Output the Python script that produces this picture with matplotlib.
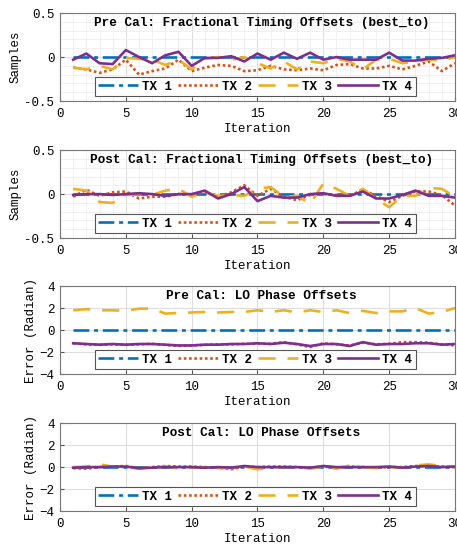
import numpy as np
import matplotlib
matplotlib.use("Agg")
import matplotlib.pyplot as plt
from matplotlib.ticker import MultipleLocator

plt.rcParams['font.family'] = ['Liberation Mono', 'DejaVu Sans Mono']
plt.rcParams['font.size'] = 9

iterations = np.arange(1, 31)
labels = ["TX 1", "TX 2", "TX 3", "TX 4"]

# pre cal fractional timing offsets (samples)
pre_to_tx1 = [0.0] * 30
pre_to_tx2 = [-0.12, -0.14, -0.18, -0.14, -0.03, -0.2, -0.16, -0.13, -0.03, -0.16,
              -0.12, -0.09, -0.1, -0.16, -0.15, -0.1, -0.14, -0.15, -0.13, -0.15,
              -0.09, -0.08, -0.13, -0.13, -0.1, -0.14, -0.1, -0.05, -0.16, -0.07]
pre_to_tx3 = [-0.12, -0.14, -0.1, -0.14, -0.01, -0.02, -0.03, -0.09, -0.03, -0.14,
              -0.02, 0.0, -0.03, 0.0, -0.07, -0.13, -0.05, -0.14, -0.05, -0.07,
              -0.02, -0.05, -0.14, -0.03, -0.02, -0.07, -0.05, -0.03, -0.04, 0.0]
pre_to_tx4 = [-0.03, 0.04, -0.07, -0.08, 0.08, 0.0, -0.07, 0.02, 0.06, -0.1,
              -0.01, -0.01, 0.01, -0.05, 0.04, -0.03, 0.05, -0.02, 0.05, -0.03,
              0.0, -0.03, -0.03, -0.03, 0.05, -0.04, -0.04, -0.02, -0.01, 0.02]

# post cal fractional timing offsets (samples)
post_to_tx1 = [0.0] * 30
post_to_tx2 = [-0.03, 0.05, -0.02, 0.02, 0.03, -0.05, -0.03, -0.03, 0.0, -0.01,
               0.02, -0.03, 0.02, 0.1, -0.02, 0.06, -0.03, -0.07, -0.01, 0.0,
               -0.01, -0.02, 0.05, -0.02, -0.09, -0.02, 0.03, 0.03, -0.01, -0.13]
post_to_tx3 = [0.06, 0.04, -0.09, -0.1, -0.01, 0.0, -0.01, 0.04, 0.06, -0.03,
               0.02, -0.02, -0.01, -0.02, 0.06, 0.08, -0.03, -0.02, -0.11, 0.12,
               0.06, -0.02, 0.06, -0.05, -0.15, -0.02, -0.02, 0.07, 0.06, -0.03]
post_to_tx4 = [-0.01, 0.0, 0.0, -0.01, 0.0, 0.01, 0.0, -0.02, 0.0, 0.0,
               0.04, -0.05, 0.0, 0.08, -0.08, -0.02, -0.04, -0.04, 0.0, 0.01,
               -0.02, -0.02, 0.03, -0.05, -0.05, -0.01, 0.04, -0.02, -0.02, -0.04]

# pre cal LO phase offsets (radian)
pre_lo_tx1 = [0.0] * 30
pre_lo_tx2 = [-1.2, -1.3, -1.35, -1.3, -1.35, -1.3, -1.25, -1.35, -1.45, -1.4,
              -1.35, -1.3, -1.3, -1.25, -1.25, -1.25, -1.1, -1.3, -1.55, -1.2,
              -1.3, -1.4, -1.15, -1.3, -1.25, -1.1, -1.1, -1.15, -1.3, -1.4]
pre_lo_tx3 = [1.8, 1.9, 1.8, 1.8, 1.75, 1.95, 1.95, 1.5, 1.55, 1.6,
              1.65, 1.6, 1.65, 1.65, 1.8, 1.65, 1.8, 1.6, 1.8, 1.65,
              1.8, 1.55, 1.75, 1.55, 1.7, 1.7, 2.0, 1.5, 1.65, 2.0]
pre_lo_tx4 = [-1.2, -1.27, -1.33, -1.27, -1.33, -1.27, -1.27, -1.33, -1.4, -1.4,
              -1.33, -1.33, -1.27, -1.27, -1.2, -1.27, -1.15, -1.27, -1.45, -1.27,
              -1.27, -1.45, -1.1, -1.33, -1.27, -1.27, -1.2, -1.2, -1.33, -1.27]

# post cal LO phase offsets (radian)
post_lo_tx1 = [0.0] * 30
post_lo_tx2 = [-0.1, -0.15, 0.0, 0.05, 0.1, -0.1, 0.0, 0.1, 0.05, 0.05,
               0.0, -0.05, -0.2, 0.05, 0.0, 0.05, 0.05, 0.0, -0.05, 0.05,
               -0.05, 0.05, 0.0, -0.05, 0.0, 0.0, 0.1, 0.1, 0.05, 0.0]
post_lo_tx3 = [0.0, 0.05, 0.25, 0.05, 0.0, -0.15, 0.0, 0.05, -0.1, -0.05,
               0.0, -0.1, -0.1, 0.05, -0.2, -0.05, 0.0, 0.0, -0.15, 0.05,
               -0.15, 0.15, 0.0, -0.1, 0.0, -0.05, 0.15, 0.25, 0.1, 0.0]
post_lo_tx4 = [-0.05, 0.0, 0.0, 0.05, 0.05, -0.1, -0.05, 0.0, 0.0, 0.0,
               -0.05, 0.0, -0.05, 0.1, 0.0, 0.0, 0.0, 0.0, -0.05, 0.1,
               0.0, 0.0, 0.0, 0.0, 0.05, -0.05, 0.05, 0.1, 0.0, 0.05]

colors = ["#0072BD", "#D95319", "#EDB120", "#7E2F8E"]
styles = [(0, (6, 1.8, 1.5, 1.8)), (0, (1, 1)), (0, (6.5, 4.5)), "-"]

panels = [
    ("Pre Cal: Fractional Timing Offsets (best_to)", "Samples",
     [pre_to_tx1, pre_to_tx2, pre_to_tx3, pre_to_tx4], 0.5, True),
    ("Post Cal: Fractional Timing Offsets (best_to)", "Samples",
     [post_to_tx1, post_to_tx2, post_to_tx3, post_to_tx4], 0.5, True),
    ("Pre Cal: LO Phase Offsets", "Error (Radian)",
     [pre_lo_tx1, pre_lo_tx2, pre_lo_tx3, pre_lo_tx4], 4, False),
    ("Post Cal: LO Phase Offsets", "Error (Radian)",
     [post_lo_tx1, post_lo_tx2, post_lo_tx3, post_lo_tx4], 4, False),
]

fig = plt.figure(figsize=(4.57, 5.46), dpi=100)
bottoms = [0.815, 0.564, 0.315, 0.064]

for (title, ylabel, series, ylim, minor), b in zip(panels, bottoms):
    ax = fig.add_axes([0.1313, b, 0.8643, 0.161])
    for y, c, ls, lab in zip(series, colors, styles, labels):
        ax.plot(iterations, y, color=c, linestyle=ls, linewidth=1.9, label=lab)
    ax.set_xlim(0, 30)
    ax.set_ylim(-ylim, ylim)
    ax.xaxis.set_major_locator(MultipleLocator(5))
    if ylim == 0.5:
        ax.set_yticks([-0.5, 0, 0.5])
        ax.set_yticklabels(["-0.5", "0", "0.5"])
    else:
        ax.yaxis.set_major_locator(MultipleLocator(2))
    ax.grid(True, which="major", color="#dddddd", linewidth=0.8)
    if minor:
        ax.xaxis.set_minor_locator(MultipleLocator(1))
        ax.yaxis.set_minor_locator(MultipleLocator(0.1))
        ax.grid(True, which="minor", color="#eeeeee", linewidth=0.6)
    ax.set_axisbelow(True)
    ax.tick_params(which="both", direction="in", length=3, color="#555555")
    ax.tick_params(axis="x", pad=5)
    ax.tick_params(axis="y", pad=4)
    ax.tick_params(which="minor", length=0)
    for s in ax.spines.values():
        s.set_color("#777777")
        s.set_linewidth(0.8)
    ax.set_xlabel("Iteration", labelpad=2)
    ax.set_ylabel(ylabel, labelpad=2)
    ax.text(0.51, 0.885, title, transform=ax.transAxes, ha="center", va="center",
            fontweight="bold", fontsize=9.2)
    leg = ax.legend(loc="center", bbox_to_anchor=(0.494, 0.165), ncol=4,
                    prop={"weight": "bold", "size": 9}, handlelength=3.2,
                    handletextpad=0.3, columnspacing=0.5, borderpad=0.3,
                    fancybox=False, framealpha=1)
    leg.get_frame().set_edgecolor("#555555")
    leg.get_frame().set_linewidth(0.8)

fig.savefig("out.png", dpi=100)
